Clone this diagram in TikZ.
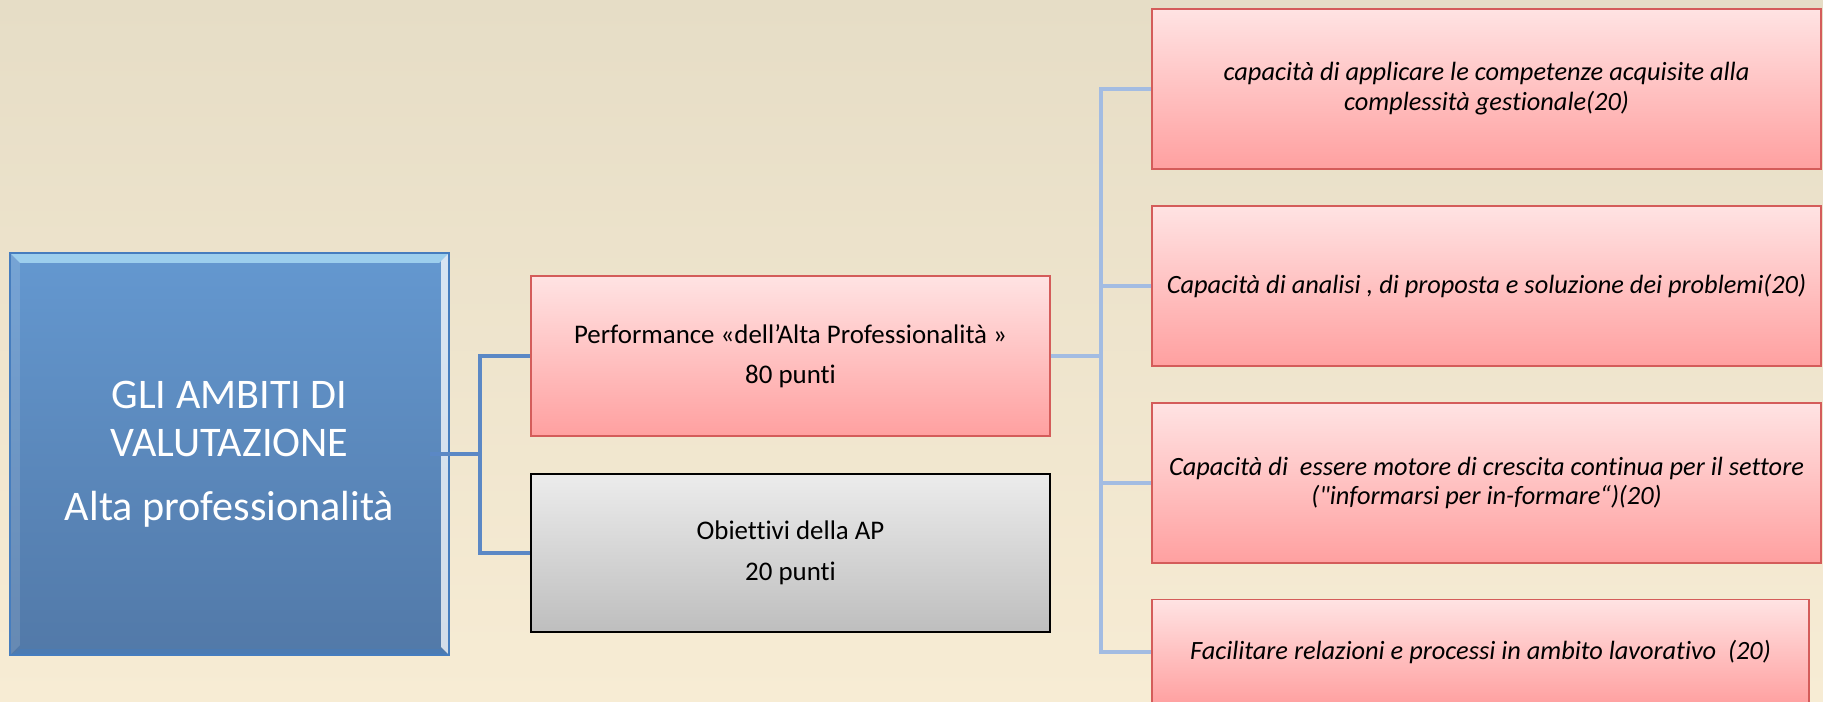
\documentclass[tikz,border=0pt]{standalone}
\usepackage{fontspec}
\setmainfont{Carlito}[Ligatures={TeXOff,NoCommon}]
\usetikzlibrary{positioning}
\definecolor{bgtop}{RGB}{230,221,198}
\definecolor{bgbot}{RGB}{247,236,212}
\definecolor{bluetop}{RGB}{100,152,208}
\definecolor{bluebot}{RGB}{82,121,168}
\definecolor{blueedge}{RGB}{70,125,190}
\definecolor{bevellight}{RGB}{170,220,245}
\definecolor{pinktop}{RGB}{255,227,227}
\definecolor{pinkbot}{RGB}{255,160,160}
\definecolor{pinkedge}{RGB}{212,92,90}
\definecolor{greytop}{RGB}{236,236,236}
\definecolor{greybot}{RGB}{190,190,190}
\definecolor{darklink}{RGB}{91,136,197}
\definecolor{lightlink}{RGB}{163,188,226}
\tikzset{
  bluebox/.style={draw=blueedge, line width=1pt, top color=bluetop, bottom color=bluebot,
    minimum width=8.78cm, minimum height=8.04cm, align=center, text=white,
    font=\fontsize{24}{27.5}\selectfont,
    path picture={
      \coordinate (nw) at (path picture bounding box.north west);
      \coordinate (ne) at (path picture bounding box.north east);
      \coordinate (sw) at (path picture bounding box.south west);
      \coordinate (se) at (path picture bounding box.south east);
      \fill[bevellight, opacity=.8] (nw) -- (ne) -- ([shift={(-.2,-.2)}]ne) -- ([shift={(.2,-.2)}]nw) -- cycle;
      \fill[white, opacity=.75] (ne) -- (se) -- ([shift={(-.16,.16)}]se) -- ([shift={(-.16,-.16)}]ne) -- cycle;
      \fill[white, opacity=.12] (nw) -- (sw) -- ([shift={(.2,.2)}]sw) -- ([shift={(.2,-.2)}]nw) -- cycle;
      \fill[blueedge, opacity=.5] (sw) -- (se) -- ([shift={(-.16,.12)}]se) -- ([shift={(.2,.12)}]sw) -- cycle;
    }},
  pinkbox/.style={draw=pinkedge, line width=1pt, top color=pinktop, bottom color=pinkbot,
    minimum width=10.38cm, minimum height=3.2cm, align=center,
    font=\fontsize{15.3}{23}\selectfont},
  greybox/.style={draw=black, line width=1.2pt, top color=greytop, bottom color=greybot,
    minimum width=10.38cm, minimum height=3.16cm, align=center,
    font=\fontsize{15.3}{23}\selectfont},
  itembox/.style={draw=pinkedge, line width=1pt, top color=pinktop, bottom color=pinkbot,
    minimum width=13.38cm, minimum height=3.2cm, align=center,
    font=\fontsize{15}{17}\selectfont\itshape},
  leftlink/.style={draw=darklink, line width=2.8pt},
  rightlink/.style={draw=lightlink, line width=2.8pt}
}
\begin{document}
\begin{tikzpicture}
\useasboundingbox (0,0) rectangle (36.46,14.02);
\shade[top color=bgtop, bottom color=bgbot] (0,0) rectangle (36.46,14.02);
% the two levels of boxes
\node[bluebox] (ambiti) at (4.59,4.94) {GLI AMBITI DI\\VALUTAZIONE\\[9pt]Alta professionalità};
\node[pinkbox] (perf) at (15.81,6.90) {Performance «dell’Alta Professionalità »\\80 punti};
\node[greybox] (obiettivi) at (15.81,2.96) {Obiettivi della AP\\20 punti};
\node[itembox] (cap1) at (29.73,12.24) {capacità di applicare le competenze acquisite alla\\complessità gestionale(20)};
\node[itembox] (cap2) at (29.73,8.30) {Capacità di analisi , di proposta e soluzione dei problemi(20)};
\node[itembox] (cap3) at (29.73,4.36) {Capacità di\ \ essere motore di crescita continua per il settore\\("informarsi per in-formare“)(20)};
\node[itembox, minimum width=13.14cm, minimum height=2.1cm] (cap4) at (29.61,0.98) {Facilitare relazioni e processi in ambito lavorativo\ \ (20)};
% connectors
\coordinate (jl) at (9.6,4.94);
\coordinate (jr) at (22.02,6.90);
\draw[leftlink] ([xshift=-0.4cm]ambiti.east) -- (jl) |- (perf.west);
\draw[leftlink] (jl) |- (obiettivi.west);
\draw[rightlink] (perf.east) -- (jr);
\foreach \c in {cap1,cap2,cap3,cap4}
  \draw[rightlink] (jr) |- (\c.west);
\end{tikzpicture}
\end{document}
